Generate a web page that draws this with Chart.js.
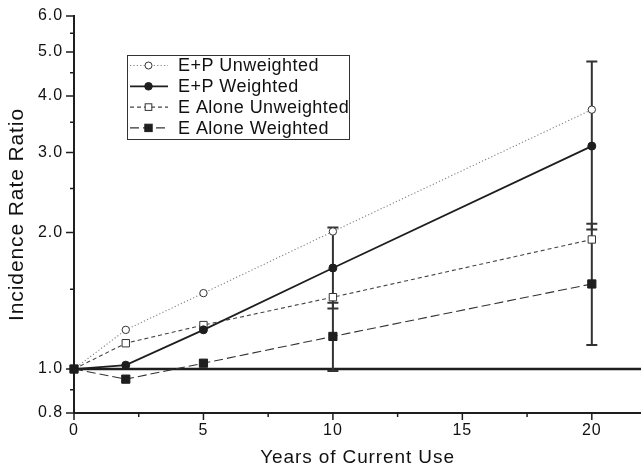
<!DOCTYPE html>
<html><head><meta charset="utf-8">
<script src="https://cdn.jsdelivr.net/npm/chart.js@4.4.0/dist/chart.umd.min.js"></script>
<style>html,body{margin:0;padding:0;background:#fff;} canvas{display:block;background:#fff;}</style>
</head><body>
<canvas id="c" width="641" height="469"></canvas>
<script>
// ---- data ----
const years = [0, 2, 5, 10, 20];
const epUnweighted = [1.0, 1.22, 1.47, 2.01, 3.73];
const epWeighted = [1.0, 1.02, 1.22, 1.67, 3.10];
const eAloneUnweighted = [1.0, 1.14, 1.25, 1.44, 1.93];
const eAloneWeighted = [1.0, 0.95, 1.03, 1.18, 1.54];
const epWeightedLower = [null, null, null, 1.36, 2.03];
const epWeightedUpper = [null, null, null, 2.05, 4.76];
const eAloneWeightedLower = [null, null, null, 0.99, 1.13];
const eAloneWeightedUpper = [null, null, null, 1.40, 2.09];
const seriesNames = ['E+P Unweighted', 'E+P Weighted', 'E Alone Unweighted', 'E Alone Weighted'];
const xMajorTicks = [0, 5, 10, 15, 20];
const xMinorTicks = [2.5, 7.5, 12.5, 17.5];
const yMajorTicks = [0.8, 1.0, 2.0, 3.0, 4.0, 5.0, 6.0];
const yMinorTicks = [0.9, 1.5, 2.5, 3.5, 4.5, 5.5];
const referenceRatio = 1.0;
const xTitle = 'Years of Current Use';
const yTitle = 'Incidence Rate Ratio';

// ---- styling ----
const FONT = "'Liberation Sans', Arial, sans-serif";
const INK = '#1e1e1e';
const SPACING = '0.9px';
const toPts = arr => years.map((x, i) => ({x: x, y: arr[i]}));

const datasets = [
  {label: seriesNames[0], data: toPts(epUnweighted), borderColor: '#808080', borderWidth: 1.1, borderDash: [1.2, 2.2],
   pointStyle: 'circle', pointRadius: 3.7, pointBackgroundColor: '#fff', pointBorderColor: '#333', pointBorderWidth: 1, order: 4},
  {label: seriesNames[1], data: toPts(epWeighted), borderColor: INK, borderWidth: 1.8, borderDash: [],
   pointStyle: 'circle', pointRadius: 4, pointBackgroundColor: INK, pointBorderColor: INK, pointBorderWidth: 1, order: 2},
  {label: seriesNames[2], data: toPts(eAloneUnweighted), borderColor: '#444', borderWidth: 1.1, borderDash: [4, 3],
   pointStyle: 'rect', pointRadius: 5.2, pointBackgroundColor: '#fff', pointBorderColor: '#333', pointBorderWidth: 1, order: 3},
  {label: seriesNames[3], data: toPts(eAloneWeighted), borderColor: '#333', borderWidth: 1.1, borderDash: [9, 4],
   pointStyle: 'rect', pointRadius: 5.8, pointBackgroundColor: INK, pointBorderColor: INK, pointBorderWidth: 1, order: 1}
];
datasets.forEach(d => { d.clip = false; d.tension = 0; d.fill = false; d.pointHoverRadius = d.pointRadius; });

const spacingPlugin = {
  id: 'spacing',
  beforeUpdate(chart) { chart.ctx.letterSpacing = SPACING; },
  beforeDraw(chart) { chart.ctx.letterSpacing = SPACING; }
};

const overlay = {
  id: 'overlay',
  beforeDatasetsDraw(chart) {
    const {ctx, chartArea: a, scales: {x, y}} = chart;
    ctx.save();
    const yr = y.getPixelForValue(referenceRatio);
    ctx.strokeStyle = INK; ctx.lineWidth = 2.5;
    ctx.beginPath(); ctx.moveTo(a.left, yr); ctx.lineTo(a.right, yr); ctx.stroke();
    const bars = [[epWeightedLower, epWeightedUpper], [eAloneWeightedLower, eAloneWeightedUpper]];
    ctx.strokeStyle = '#333'; ctx.lineWidth = 2;
    bars.forEach(([lo, hi]) => years.forEach((yv, i) => {
      if (lo[i] == null) return;
      const px = x.getPixelForValue(yv);
      const p1 = y.getPixelForValue(lo[i]), p2 = y.getPixelForValue(hi[i]);
      ctx.beginPath();
      ctx.moveTo(px, p1); ctx.lineTo(px, p2);
      ctx.moveTo(px - 5.5, p1); ctx.lineTo(px + 5.5, p1);
      ctx.moveTo(px - 5.5, p2); ctx.lineTo(px + 5.5, p2);
      ctx.stroke();
    }));
    ctx.restore();
  },
  afterDraw(chart) {
    const {ctx, chartArea: a, scales: {x, y}} = chart;
    ctx.save();
    ctx.strokeStyle = INK; ctx.lineWidth = 1.5;
    ctx.beginPath();
    xMajorTicks.forEach(v => { const p = x.getPixelForValue(v); ctx.moveTo(p, a.bottom); ctx.lineTo(p, a.bottom + 7); });
    xMinorTicks.forEach(v => { const p = x.getPixelForValue(v); ctx.moveTo(p, a.bottom); ctx.lineTo(p, a.bottom + 4); });
    yMajorTicks.forEach(v => { const p = y.getPixelForValue(v); ctx.moveTo(a.left, p); ctx.lineTo(a.left - 8, p); });
    yMinorTicks.forEach(v => { const p = y.getPixelForValue(v); ctx.moveTo(a.left, p); ctx.lineTo(a.left - 4, p); });
    ctx.stroke();

    // legend
    const bx = 127.5, by = 55.5, bw = 222, bh = 84;
    ctx.fillStyle = '#fff'; ctx.fillRect(bx, by, bw, bh);
    ctx.strokeStyle = '#333'; ctx.lineWidth = 1; ctx.setLineDash([]);
    ctx.strokeRect(bx, by, bw, bh);
    ctx.font = '18px ' + FONT; ctx.textBaseline = 'middle'; ctx.textAlign = 'left';
    ctx.letterSpacing = '0.45px';
    chart.data.datasets.forEach((d, i) => {
      const ly = 65.5 + i * 20.8;
      ctx.save();
      ctx.strokeStyle = d.borderColor; ctx.lineWidth = d.borderWidth; ctx.setLineDash(d.borderDash);
      ctx.beginPath(); ctx.moveTo(130, ly); ctx.lineTo(168, ly); ctx.stroke();
      ctx.setLineDash([]);
      ctx.fillStyle = d.pointBackgroundColor; ctx.strokeStyle = d.pointBorderColor; ctx.lineWidth = 1;
      const mx = 148.5;
      if (d.pointStyle === 'circle') {
        ctx.beginPath(); ctx.arc(mx, ly, d.pointRadius * 0.95, 0, Math.PI * 2); ctx.fill(); ctx.stroke();
      } else {
        const s = d.pointRadius * Math.SQRT1_2 * 0.9;
        ctx.fillRect(mx - s, ly - s, 2 * s, 2 * s); ctx.strokeRect(mx - s, ly - s, 2 * s, 2 * s);
      }
      ctx.restore();
      ctx.fillStyle = '#111';
      ctx.fillText(d.label, 178, ly + 1);
    });
    ctx.restore();
  }
};

new Chart(document.getElementById('c'), {
  type: 'line',
  data: {datasets: datasets},
  options: {
    responsive: false,
    animation: false,
    events: [],
    layout: {autoPadding: false, padding: {top: 16, right: 0, left: 0, bottom: 0}},
    plugins: {legend: {display: false}, tooltip: {enabled: false}},
    scales: {
      x: {
        type: 'linear', min: 0, max: 21.9,
        afterBuildTicks: s => { s.ticks = xMajorTicks.map(v => ({value: v})); },
        afterFit: s => { s.height = 56; s.paddingLeft = 0; s.paddingRight = 0; },
        ticks: {font: {family: FONT, size: 16}, color: '#111', padding: 8, maxRotation: 0, autoSkip: false,
                callback: v => String(v)},
        grid: {display: false, drawTicks: false},
        border: {display: true, color: INK, width: 2},
        title: {display: true, text: xTitle, font: {family: FONT, size: 19}, color: '#111', padding: {top: 0, bottom: 0}}
      },
      y: {
        type: 'logarithmic', min: 0.8, max: 6,
        afterBuildTicks: s => { s.ticks = yMajorTicks.map(v => ({value: v})); },
        afterFit: s => { s.width = 74; s.paddingTop = 0; s.paddingBottom = 0; },
        ticks: {font: {family: FONT, size: 16}, color: '#111', padding: 11, autoSkip: false,
                callback: v => Number(v).toFixed(1)},
        grid: {display: false, drawTicks: false},
        border: {display: true, color: INK, width: 2},
        title: {display: true, text: yTitle, font: {family: FONT, size: 21}, color: '#111', padding: {top: 5, bottom: 0}}
      }
    }
  },
  plugins: [spacingPlugin, overlay]
});
</script>
</body></html>
